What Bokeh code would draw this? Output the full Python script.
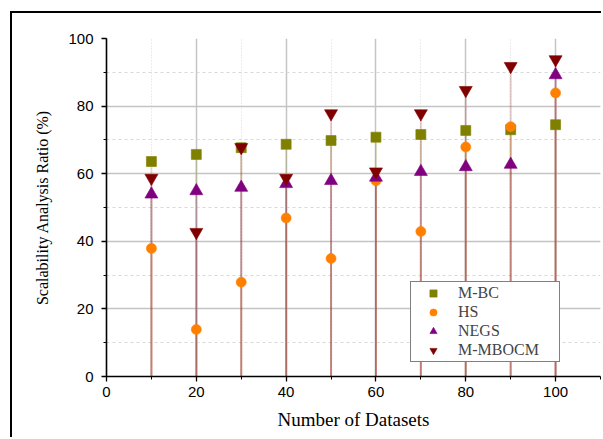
from bokeh.plotting import figure
from bokeh.models import Range1d, SingleIntervalTicker, Legend, LegendItem
from bokeh.embed import file_html
from bokeh.resources import INLINE

datasets = [10, 20, 30, 40, 50, 60, 70, 80, 90, 100]
m_bc = [63.6, 65.7, 67.7, 68.7, 69.8, 70.8, 71.6, 72.8, 73.0, 74.5]
hs = [37.9, 13.9, 27.9, 46.9, 34.9, 57.9, 42.9, 67.9, 73.9, 83.9]
negs = [53.9, 54.9, 55.9, 57.0, 57.9, 58.9, 60.6, 62.0, 62.7, 89.2]
m_mbocm = [58.7, 42.7, 67.8, 58.7, 77.8, 60.6, 77.8, 84.7, 91.8, 93.8]
series_names = ["M-BC", "HS", "NEGS", "M-MBOCM"]
x_ticks_interval = 20
y_ticks_interval = 20

OFF_X = 12
OFF_Y = 13

p = figure(width=603 - OFF_X, height=439 - OFF_Y, output_backend="svg", toolbar_location=None,
           x_range=Range1d(0, 110), y_range=Range1d(0, 100),
           min_border_left=106 - OFF_X, min_border_right=3,
           min_border_top=38 - OFF_Y, min_border_bottom=63)
p.styles = {"border-left": "2px solid black", "border-top": "2px solid black",
            "margin-left": "10px", "margin-top": "11px"}
p.outline_line_color = None
p.background_fill_color = "white"
p.border_fill_color = "white"

p.xaxis.ticker = SingleIntervalTicker(interval=x_ticks_interval, num_minor_ticks=2)
p.yaxis.ticker = SingleIntervalTicker(interval=y_ticks_interval, num_minor_ticks=2)

for ax in (p.xaxis[0], p.yaxis[0]):
    ax.axis_line_color = "black"
    ax.axis_line_width = 1.6
    ax.major_tick_line_color = "black"
    ax.minor_tick_line_color = "black"
    ax.major_tick_line_width = 1.3
    ax.minor_tick_line_width = 1.0
    ax.major_tick_out = 5
    ax.major_tick_in = 0
    ax.minor_tick_out = 3
    ax.minor_tick_in = 0
    ax.major_label_text_font = "Liberation Sans"
    ax.major_label_text_font_size = "15px"
    ax.major_label_text_color = "black"
    ax.axis_label_text_font = "Liberation Serif"
    ax.axis_label_text_font_style = "normal"
    ax.axis_label_text_color = "black"

p.xaxis.axis_label = "Number of Datasets"
p.yaxis.axis_label = "Scalability Analysis Ratio (%)"
p.xaxis.axis_label_text_font_size = "19px"
p.yaxis.axis_label_text_font_size = "16px"
p.xaxis.major_label_standoff = 5
p.yaxis.major_label_standoff = 8
p.xaxis.axis_label_standoff = 9
p.yaxis.axis_label_standoff = 14

p.xgrid.grid_line_color = "#c4c4c4"
p.xgrid.grid_line_width = 1.5
p.ygrid.grid_line_color = "#c4c4c4"
p.ygrid.grid_line_width = 1.5
p.xgrid.minor_grid_line_color = "#d8d8d8"
p.xgrid.minor_grid_line_dash = "1 2"
p.xgrid.minor_grid_line_width = 1
p.ygrid.minor_grid_line_color = "#d8d8d8"
p.ygrid.minor_grid_line_dash = "3 3"
p.ygrid.minor_grid_line_width = 1

colors = ["#808000", "#ff8000", "#800080", "#800000"]
values = [m_bc, hs, negs, m_mbocm]
markers = ["square", "circle", "triangle", "inverted_triangle"]
sizes = [10, 10, 13, 13]

zeros = [0] * len(datasets)
for vals, c in zip(values, colors):
    p.segment(x0=datasets, y0=zeros, x1=datasets, y1=vals, line_color=c,
              line_alpha=0.2, line_width=2)

items = []
for name, vals, c, m, s in zip(series_names, values, colors, markers, sizes):
    r = p.scatter(x=datasets, y=vals, marker=m, size=s, fill_color=c,
                  line_color=c, line_alpha=0.6)
    items.append(LegendItem(label=name, renderers=[r]))

legend = Legend(items=items, location=(304, 14), padding=2, spacing=1,
                label_height=18, glyph_height=18, glyph_width=40,
                label_standoff=5, label_width=99,
                label_text_font="Liberation Serif", label_text_font_size="16px",
                border_line_color="black", border_line_width=1.2,
                background_fill_color="white", background_fill_alpha=1, margin=0)
p.add_layout(legend)

open("out.html", "w").write(file_html(p, INLINE))
